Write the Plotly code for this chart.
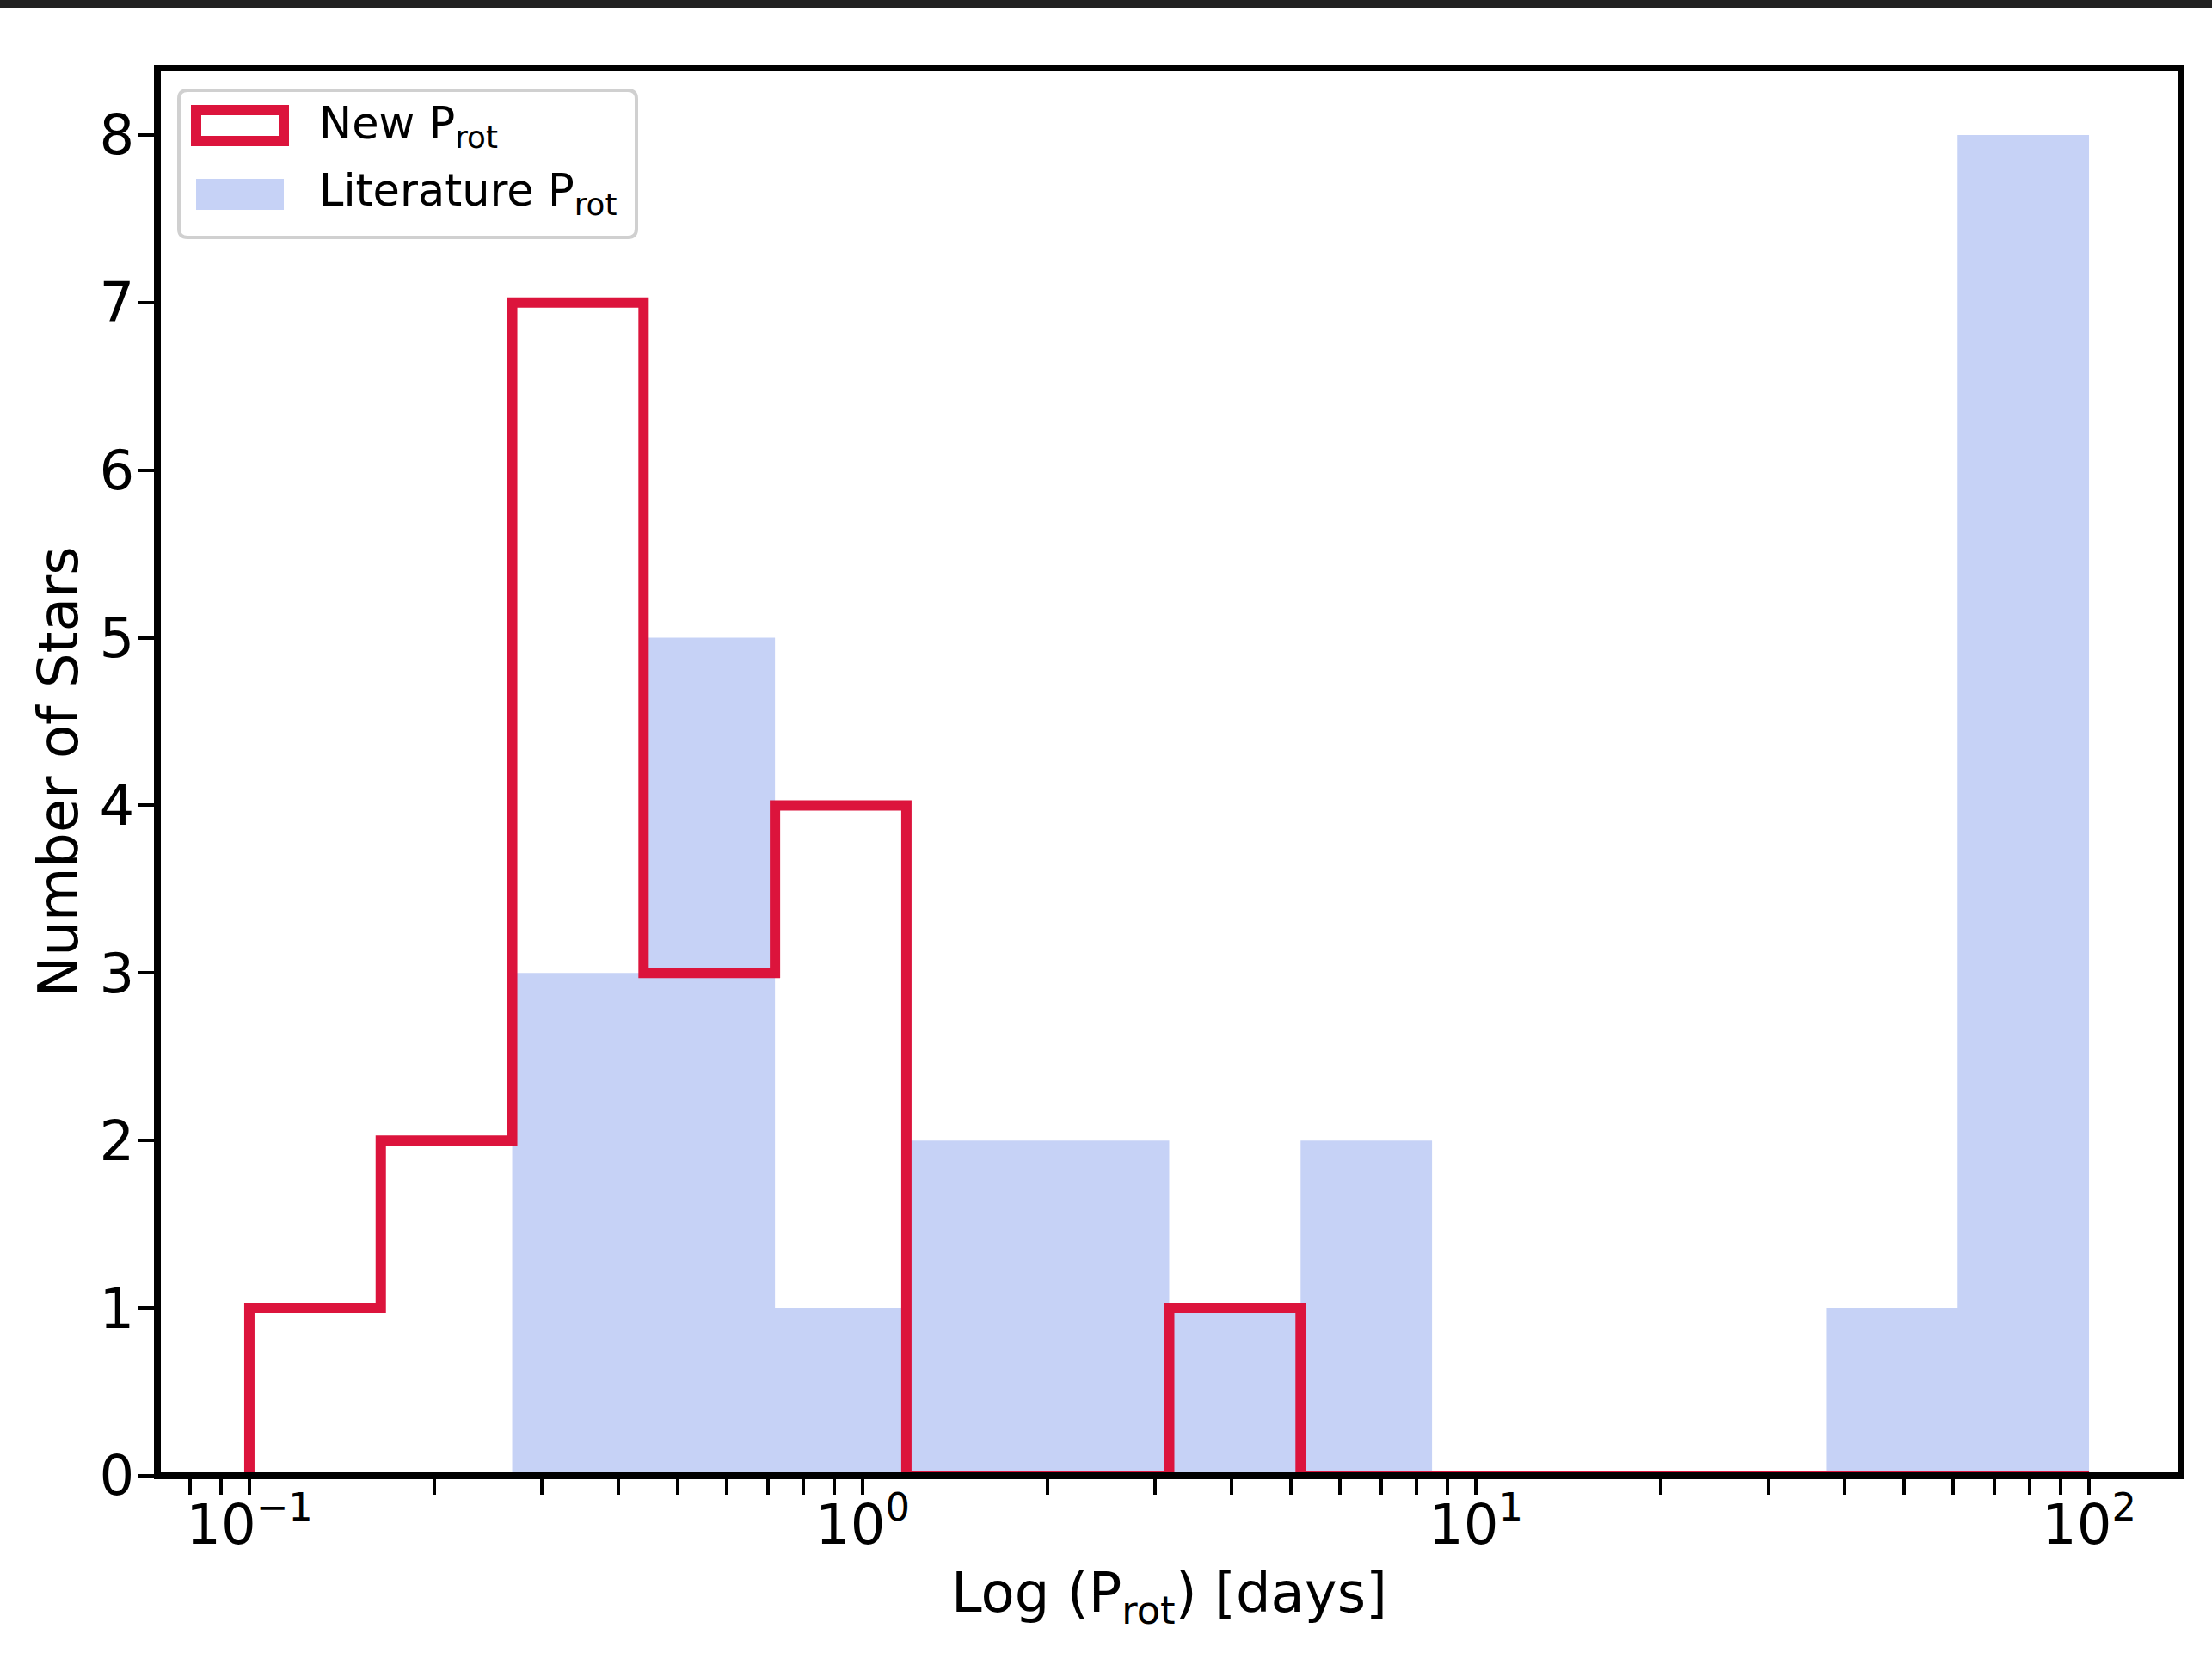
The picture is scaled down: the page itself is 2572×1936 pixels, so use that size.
import numpy as np
import plotly.graph_objects as go

# Histogram bins: 14 log-spaced bins between 0.1 and 100 days
bin_edges = list(np.logspace(-1, 2, 15))

# Star counts per bin
new_counts = [1, 2, 7, 3, 4, 0, 0, 1, 0, 0, 0, 0, 0, 0]
lit_counts = [0, 0, 3, 5, 1, 2, 2, 1, 2, 0, 0, 0, 1, 8]

y_ticks = [0, 1, 2, 3, 4, 5, 6, 7, 8]
x_major = [0.1, 1, 10, 100]
x_major_text = ["10<sup>−1</sup>", "10<sup>0</sup>", "10<sup>1</sup>", "10<sup>2</sup>"]
x_minor = [m * 10.0 ** k for k in range(-2, 2) for m in range(2, 10)]

RED = "#dc143c"
BLUE_FILL = "rgba(65,105,225,0.3)"
FONT = "DejaVu Sans"

W, H = 2572, 1936
L, R, T, B = 183, 2536, 79, 1716  # plot area in pixels


def px(x):
    return (x - L) / (R - L)


def py(y):
    return (B - y) / (B - T)


fig = go.Figure()

# Literature periods: filled step histogram
fig.add_trace(go.Scatter(
    x=bin_edges,
    y=lit_counts + [lit_counts[-1]],
    mode="lines",
    line=dict(shape="hv", width=0, color=BLUE_FILL),
    fill="tozeroy",
    fillcolor=BLUE_FILL,
    showlegend=False,
    hoverinfo="skip",
))

# New periods: outlined step histogram
fig.add_trace(go.Scatter(
    x=[bin_edges[0]] + bin_edges,
    y=[0] + new_counts + [0],
    mode="lines",
    line=dict(shape="hv", width=12, color=RED),
    showlegend=False,
    hoverinfo="skip",
))

# Axes frame and top band
shapes = [
    dict(type="rect", xref="paper", yref="paper", x0=0, x1=1, y0=0, y1=1,
         line=dict(color="black", width=8), layer="above"),
    dict(type="rect", xref="paper", yref="paper", x0=px(0), x1=px(W), y0=py(9), y1=py(-2),
         line=dict(width=0), fillcolor="#222222", layer="above"),
]

# Legend box with rounded corners
bx0, bx1, by0, by1, rad = 208, 740, 105, 276, 10


def rounded_rect_path(x0, x1, y0, y1, r):
    pts = [
        f"M {px(x0 + r)},{py(y0)}",
        f"L {px(x1 - r)},{py(y0)}",
        f"Q {px(x1)},{py(y0)} {px(x1)},{py(y0 + r)}",
        f"L {px(x1)},{py(y1 - r)}",
        f"Q {px(x1)},{py(y1)} {px(x1 - r)},{py(y1)}",
        f"L {px(x0 + r)},{py(y1)}",
        f"Q {px(x0)},{py(y1)} {px(x0)},{py(y1 - r)}",
        f"L {px(x0)},{py(y0 + r)}",
        f"Q {px(x0)},{py(y0)} {px(x0 + r)},{py(y0)}",
        "Z",
    ]
    return " ".join(pts)


shapes.append(dict(type="path", xref="paper", yref="paper",
                   path=rounded_rect_path(bx0, bx1, by0, by1, rad),
                   fillcolor="rgba(255,255,255,0.8)",
                   line=dict(color="#d0d0d0", width=4), layer="above"))
shapes.append(dict(type="rect", xref="paper", yref="paper",
                   x0=px(228), x1=px(330), y0=py(164), y1=py(128),
                   fillcolor="rgba(0,0,0,0)", line=dict(color=RED, width=12), layer="above"))
shapes.append(dict(type="rect", xref="paper", yref="paper",
                   x0=px(228), x1=px(330), y0=py(244), y1=py(208),
                   fillcolor=BLUE_FILL, line=dict(width=0), layer="above"))

annotations = [
    dict(xref="paper", yref="paper", x=px(369), y=py(147), xanchor="left", yanchor="middle",
         text="New P<sub>rot</sub>", showarrow=False, font=dict(family=FONT, size=51, color="black")),
    dict(xref="paper", yref="paper", x=px(369), y=py(225), xanchor="left", yanchor="middle",
         text="Literature P<sub>rot</sub>", showarrow=False, font=dict(family=FONT, size=51, color="black")),
]

fig.update_layout(
    width=W, height=H,
    margin=dict(l=L, r=W - R, t=T, b=H - B, pad=0),
    paper_bgcolor="white", plot_bgcolor="white",
    font=dict(family=FONT, size=64, color="black"),
    shapes=shapes,
    annotations=annotations,
    showlegend=False,
)

fig.update_xaxes(
    type="log", range=[-1.15, 2.15],
    showline=False, showgrid=False, zeroline=False,
    tickmode="array", tickvals=x_major, ticktext=x_major_text,
    ticks="outside", ticklen=21, tickwidth=4, tickcolor="black",
    ticklabelstandoff=-20,
    tickfont=dict(family=FONT, size=64, color="black"),
    minor=dict(tickmode="array", tickvals=x_minor, ticks="outside", ticklen=21,
               tickwidth=4, tickcolor="black", showgrid=False),
    title=dict(text="Log (P<sub>rot</sub>) [days]", font=dict(family=FONT, size=64), standoff=20),
)

fig.update_yaxes(
    range=[0, 8.4],
    showline=False, showgrid=False, zeroline=False,
    tickmode="array", tickvals=y_ticks,
    ticks="outside", ticklen=21, tickwidth=4, tickcolor="black",
    ticklabelstandoff=-8,
    tickfont=dict(family=FONT, size=64, color="black"),
    title=dict(text="Number of Stars", font=dict(family=FONT, size=64), standoff=4),
)

fig.write_html("out.html")
